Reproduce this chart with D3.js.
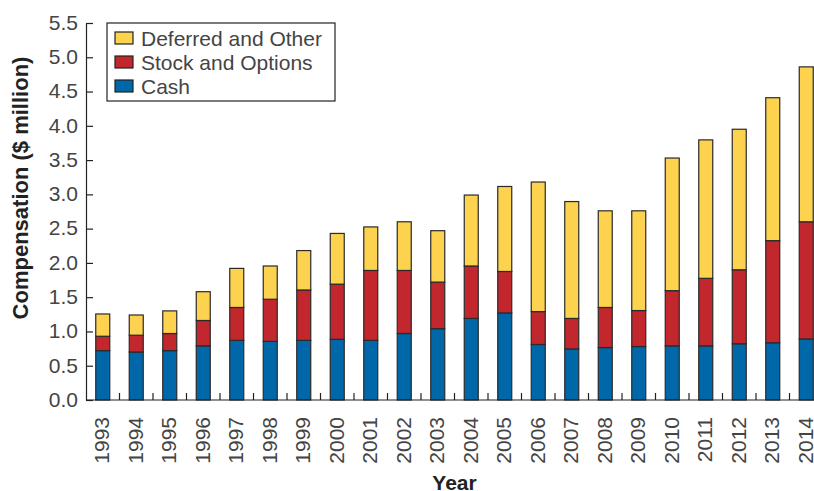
<!DOCTYPE html>
<meta charset="utf-8">
<style>
body { margin: 0; background: #fff; }
svg { font-family: "Liberation Sans", Arial, sans-serif; }
.axis text { font-size: 21px; fill: #444; }
.axis path, .axis line { stroke: #222; stroke-width: 1.2px; }
.title { font-weight: bold; fill: #222; }
.legend text { font-size: 21px; fill: #444; }
</style>
<svg width="814" height="491"></svg>
<script src="https://cdnjs.cloudflare.com/ajax/libs/d3/7.8.5/d3.min.js"></script>
<script>

var years = ["1993","1994","1995","1996","1997","1998","1999","2000","2001","2002","2003",
             "2004","2005","2006","2007","2008","2009","2010","2011","2012","2013","2014"];
var cash = [0.72,0.70,0.72,0.79,0.87,0.855,0.87,0.885,0.87,0.97,1.04,
            1.19,1.27,0.81,0.745,0.765,0.78,0.79,0.79,0.82,0.835,0.89];
var stock = [0.21,0.245,0.25,0.37,0.48,0.615,0.735,0.805,1.02,0.92,0.68,
             0.765,0.605,0.48,0.445,0.585,0.525,0.805,0.985,1.08,1.49,1.71];
var deferred = [0.325,0.295,0.33,0.42,0.57,0.485,0.575,0.74,0.635,0.71,0.75,
                1.035,1.24,1.89,1.705,1.41,1.455,1.935,2.02,2.05,2.085,2.26];
var yTicks = [0,0.5,1,1.5,2,2.5,3,3.5,4,4.5,5,5.5];

var seriesNames = ["Cash", "Stock and Options", "Deferred and Other"];
var colors = ["#0068a9", "#c1272d", "#fdd24f"];

var svg = d3.select("svg");

var x = d3.scaleBand()
    .domain(years)
    .range([86, 823]);

var y = d3.scaleLinear()
    .domain([0, 5.5])
    .range([400, 23]);

var barW = 14;

// stack the three series
var rows = years.map(function(yr, i) {
    return { year: yr, Cash: cash[i], "Stock and Options": stock[i], "Deferred and Other": deferred[i] };
});
var stacked = d3.stack().keys(seriesNames)(rows);

svg.append("g")
    .selectAll("g")
    .data(stacked)
    .join("g")
    .attr("fill", function(d, i) { return colors[i]; })
    .selectAll("rect")
    .data(function(d) { return d; })
    .join("rect")
    .attr("x", function(d) { return x(d.data.year) + x.bandwidth() / 2 - barW / 2; })
    .attr("width", barW)
    .attr("y", function(d) { return y(d[1]); })
    .attr("height", function(d) { return y(d[0]) - y(d[1]); })
    .attr("stroke", "#2a2a2a")
    .attr("stroke-width", 1.2);

// y axis, ticks point inward
var yAxis = svg.append("g")
    .attr("class", "axis")
    .attr("transform", "translate(86,0)")
    .call(d3.axisLeft(y).tickValues(yTicks).tickFormat(d3.format(".1f"))
        .tickSizeInner(-7).tickSizeOuter(0).tickPadding(8));
yAxis.selectAll("text").attr("dy", "0.3em");

// x axis: ticks between bars pointing up
var xAxis = svg.append("g")
    .attr("class", "axis")
    .attr("transform", "translate(0,400)");
xAxis.append("line")
    .attr("x1", 86).attr("x2", 823)
    .attr("y1", 0).attr("y2", 0);
xAxis.selectAll(".sep")
    .data(years.slice(1))
    .join("line")
    .attr("class", "sep")
    .attr("x1", function(d) { return x(d); })
    .attr("x2", function(d) { return x(d); })
    .attr("y1", 0).attr("y2", -7);
xAxis.selectAll(".yl")
    .data(years)
    .join("text")
    .attr("class", "yl")
    .attr("transform", function(d) {
        return "translate(" + (x(d) + x.bandwidth() / 2 + 6.5) + ",17) rotate(-90)";
    })
    .attr("text-anchor", "end")
    .text(function(d) { return d; });

// titles
svg.append("text")
    .attr("class", "title")
    .attr("transform", "translate(28,188) rotate(-90)")
    .attr("text-anchor", "middle")
    .style("font-size", "22px")
    .text("Compensation ($ million)");

svg.append("text")
    .attr("class", "title")
    .attr("x", 454.5)
    .attr("y", 490)
    .attr("text-anchor", "middle")
    .style("font-size", "21px")
    .text("Year");

// legend
var legend = svg.append("g").attr("class", "legend");
legend.append("rect")
    .attr("x", 107).attr("y", 23)
    .attr("width", 228).attr("height", 78)
    .attr("fill", "#fff")
    .attr("stroke", "#222")
    .attr("stroke-width", 1.2);

var legendOrder = [2, 1, 0];
legendOrder.forEach(function(k, i) {
    var ly = 38 + i * 24;
    legend.append("rect")
        .attr("x", 115).attr("y", ly - 6)
        .attr("width", 18).attr("height", 12)
        .attr("fill", colors[k])
        .attr("stroke", "#222")
        .attr("stroke-width", 1.2);
    legend.append("text")
        .attr("x", 141).attr("y", ly)
        .attr("dy", "0.36em")
        .text(seriesNames[k]);
});

</script>
